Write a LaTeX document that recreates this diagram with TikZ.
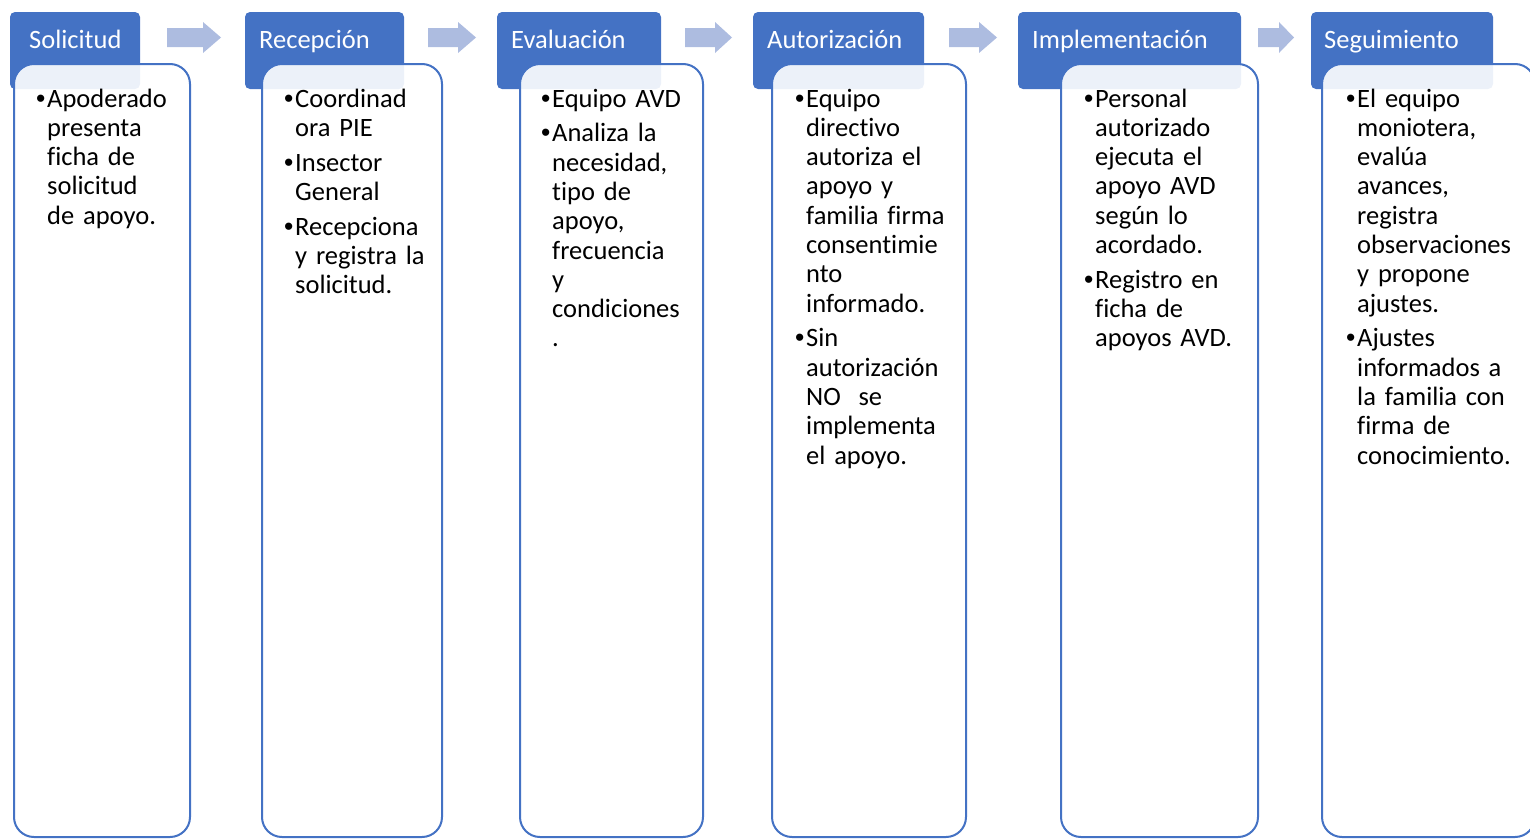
\documentclass[tikz,border=0pt]{standalone}
\usepackage{fontspec}
\setmainfont{Carlito}[Ligatures=NoCommon]
\newfontfamily\bulletfont{Liberation Sans}
\definecolor{hdr}{HTML}{4472C4}
\definecolor{arr}{HTML}{ADBCE0}
\tikzset{
  header/.style={fill=hdr, draw=none, rounded corners=5pt, inner sep=0, outer sep=0, anchor=north west},
  bodybox/.style={draw=hdr, line width=2pt, fill=white, fill opacity=0.9, rounded corners=20pt, inner sep=0, outer sep=0, anchor=north west},
  htext/.style={text=white, font=\fontsize{26.5}{29}\selectfont, anchor=base west, inner sep=0},
  btext/.style={text=black, font=\fontsize{26.5}{29.3}\selectfont, anchor=base west, inner sep=0, text width=260pt, align=left},
  blockarrow/.style={fill=arr, draw=none}
}
\newcommand{\bl}{\makebox[11pt][l]{\bulletfont •}}
\newcommand{\ind}{\hspace*{11pt}}
\newcommand{\pgap}{\\[5.5pt]}
\newcommand{\barrow}[3]{\fill[blockarrow] (#1,28) -- (#2,28) -- (#2,22) -- (#3,37.5) -- (#2,53) -- (#2,47) -- (#1,47) -- cycle;}
\begin{document}
\begin{tikzpicture}[x=1pt,y=-1pt]
\useasboundingbox (0,0) rectangle (1530,838);
\clip (0,0) rectangle (1530,838);
% headers
\node[header, minimum width=130pt, minimum height=77pt] (h1) at (10,12) {};
\node[header, minimum width=159pt, minimum height=77pt] (h2) at (245,12) {};
\node[header, minimum width=164pt, minimum height=77pt] (h3) at (497,12) {};
\node[header, minimum width=171pt, minimum height=77pt] (h4) at (753,12) {};
\node[header, minimum width=223pt, minimum height=77pt] (h5) at (1018,12) {};
\node[header, minimum width=182pt, minimum height=77pt] (h6) at (1311,12) {};
% bodies
\node[bodybox, minimum width=176pt, minimum height=773pt] (b1) at (14,64) {};
\node[bodybox, minimum width=180pt, minimum height=773pt] (b2) at (262,64) {};
\node[bodybox, minimum width=183pt, minimum height=773pt] (b3) at (520,64) {};
\node[bodybox, minimum width=194pt, minimum height=773pt] (b4) at (772,64) {};
\node[bodybox, minimum width=197pt, minimum height=773pt] (b5) at (1061,64) {};
\node[bodybox, minimum width=213pt, minimum height=773pt] (b6) at (1322,64) {};
% header texts
\node[htext] (t1) at (29,48) {Solicitud};
\node[htext] (t2) at (259,48) {Recepción};
\node[htext] (t3) at (511,48) {Evaluación};
\node[htext] (t4) at (767,48) {Autorización};
\node[htext] (t5) at (1032,48) {Implementación};
\node[htext] (t6) at (1324,48) {Seguimiento};
% arrows
\barrow{167}{203}{221}
\barrow{428}{458}{476}
\barrow{685}{715}{732}
\barrow{949}{979}{997}
\barrow{1258}{1279}{1294}
% body texts
\node[btext] (c1) at (36,107) {\bl Apoderado\\ \ind presenta\\ \ind ficha de\\ \ind solicitud\\ \ind de apoyo.};
\node[btext] (c2) at (284,107) {\bl Coordinad\\ \ind ora PIE\pgap \bl Insector\\ \ind General\pgap \bl Recepciona\\ \ind y registra la\\ \ind solicitud.};
\node[btext] (c3) at (541,107) {\bl Equipo AVD\pgap \bl Analiza la\\ \ind necesidad,\\ \ind tipo de\\ \ind apoyo,\\ \ind frecuencia\\ \ind y\\ \ind condiciones\\ \ind .};
\node[btext] (c4) at (795,107) {\bl Equipo\\ \ind directivo\\ \ind autoriza el\\ \ind apoyo y\\ \ind familia firma\\ \ind consentimie\\ \ind nto\\ \ind informado.\pgap \bl Sin\\ \ind autorización\\ \ind NO\ \ se\\ \ind implementa\\ \ind el apoyo.};
\node[btext] (c5) at (1084,107) {\bl Personal\\ \ind autorizado\\ \ind ejecuta el\\ \ind apoyo AVD\\ \ind según lo\\ \ind acordado.\pgap \bl Registro en\\ \ind ficha de\\ \ind apoyos AVD.};
\node[btext] (c6) at (1346,107) {\bl El equipo\\ \ind moniotera,\\ \ind evalúa\\ \ind avances,\\ \ind registra\\ \ind observaciones\\ \ind y propone\\ \ind ajustes.\pgap \bl Ajustes\\ \ind informados a\\ \ind la familia con\\ \ind firma de\\ \ind conocimiento.};
\end{tikzpicture}
\end{document}
